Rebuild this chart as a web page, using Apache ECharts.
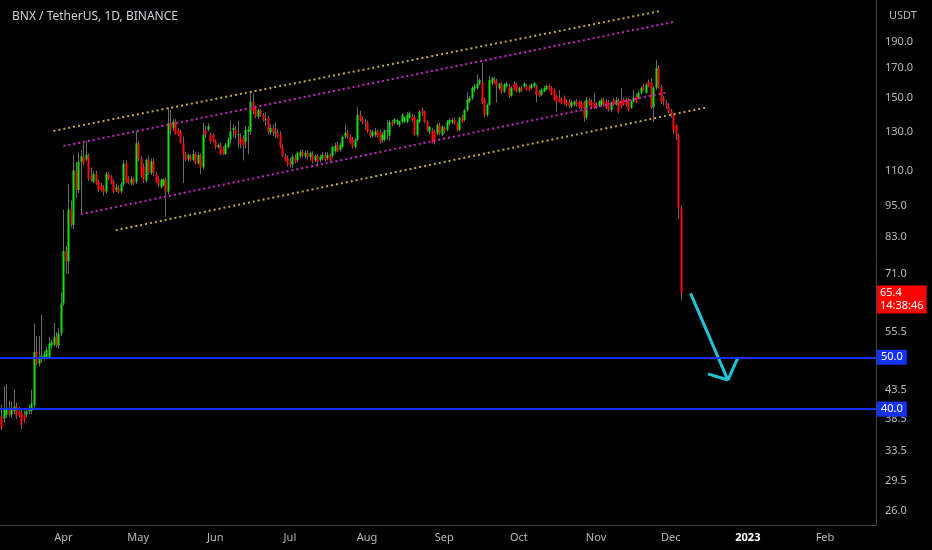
<!DOCTYPE html>
<html><head><meta charset="utf-8">
<script src="https://cdn.jsdelivr.net/npm/echarts@6/dist/echarts.min.js"></script>
<style>html,body{margin:0;padding:0;background:#000}#c{width:932px;height:550px}</style>
</head><body><div id="c"></div>
<script>
const startDate = '2022-03-07';
const endDate = '2023-02-21';
const opens = [
38.9,38.5,39.1,40.0,39.1,39.7,40.5,39.7,39.4,39.1,
39.1,39.7,39.7,40.7,51.0,48.6,49.6,49.8,49.9,49.9,
52.4,52.6,54.4,52.4,55.2,62.7,78.3,74.9,93.3,87.5,
110.3,101.4,114.3,117.0,115.5,117.0,107.3,105.0,108.8,105.0,
103.6,102.6,100.7,108.5,107.3,105.0,101.4,102.6,100.7,104.0,
113.5,106.5,104.3,106.5,105.0,123.7,115.8,112.0,105.5,115.3,
109.0,114.5,108.5,106.5,102.6,103.6,106.0,100.7,134.6,132.0,
135.5,130.9,130.0,123.7,118.1,115.8,117.0,115.2,118.1,113.5,
117.7,111.6,130.9,130.9,128.2,128.2,124.5,121.6,122.8,120.8,
118.1,121.6,125.4,130.9,131.0,128.0,127.0,126.0,124.4,130.0,
130.0,147.5,143.8,138.3,142.0,139.5,136.5,137.8,129.5,132.0,
129.2,129.8,128.2,121.8,117.2,116.2,114.3,112.9,116.7,115.2,
117.2,119.2,117.2,118.7,116.7,117.7,115.2,117.2,115.2,116.2,
117.7,116.2,117.2,117.2,119.5,122.9,120.2,121.8,127.1,129.2,
127.1,126.0,121.8,125.4,139.5,137.0,135.0,135.0,129.8,127.6,
128.0,130.0,129.8,125.4,125.4,130.0,127.6,135.4,135.0,134.5,
133.7,135.4,135.4,135.4,137.8,138.3,138.3,128.2,135.4,142.4,
141.2,135.4,129.8,130.9,129.8,128.8,133.7,128.2,132.0,130.9,
134.5,135.0,136.5,134.5,130.9,138.3,136.5,142.4,147.6,149.8,
155.2,156.3,159.2,160.5,148.7,139.5,145.6,159.5,162.0,160.5,
156.3,158.5,154.0,157.4,157.4,151.3,159.2,158.5,154.0,156.3,
157.2,157.4,157.4,156.3,157.4,157.0,154.0,151.9,154.0,155.5,
157.8,156.3,155.2,151.3,150.0,148.7,150.0,147.6,147.6,144.7,
145.6,147.6,147.6,147.1,147.0,137.8,148.7,147.6,147.0,145.6,
144.7,145.6,148.7,147.6,147.0,142.4,148.7,145.6,147.6,148.7,
148.7,148.7,148.7,143.8,147.6,151.3,150.0,153.0,157.4,153.2,
160.5,160.0,144.0,156.5,170.0,157.0,149.5,147.0,145.0,142.0,
139.5,133.7,128.2,93.8];
const highs = [
40.8,44.2,44.5,41.5,41.3,43.5,41.2,40.4,40.0,39.8,
40.3,40.8,43.5,57.6,54.6,54.6,59.7,51.2,52.2,54.4,
53.8,57.7,55.5,56.5,65.7,93.3,80.0,104.0,97.0,117.8,
114.3,119.0,120.0,123.7,125.0,118.5,111.6,110.0,110.0,106.0,
104.5,103.5,109.5,109.5,108.0,106.0,104.0,103.5,105.0,115.0,
115.0,107.5,107.5,107.0,130.2,125.0,117.0,113.5,116.0,117.0,
116.0,115.8,109.5,107.5,106.5,106.5,107.0,144.0,142.4,137.0,
137.0,132.0,131.0,127.3,119.0,118.5,118.0,120.0,119.0,119.0,
118.5,134.6,133.0,134.6,129.5,129.0,125.5,123.5,124.0,122.0,
124.0,127.0,136.0,134.0,133.0,136.0,129.0,128.0,133.0,133.0,
153.0,153.0,145.0,143.5,143.0,140.5,141.0,139.0,134.0,134.0,
135.0,131.0,130.0,123.0,118.5,117.5,116.0,118.0,118.0,119.5,
120.5,120.5,120.0,120.0,119.5,119.5,118.0,118.0,118.0,119.0,
119.0,119.0,118.5,122.5,124.0,124.5,124.0,128.0,134.0,131.0,
128.5,127.0,126.5,144.0,142.0,138.5,137.0,136.0,131.0,131.0,
132.0,131.0,131.0,129.5,131.0,136.5,136.5,136.5,137.5,137.0,
136.0,140.5,138.5,141.0,141.5,140.0,139.5,137.0,142.5,144.0,
142.0,136.0,133.0,132.0,131.0,134.5,135.0,133.5,133.0,136.5,
137.5,137.5,138.0,135.5,138.5,139.5,143.0,154.0,151.0,157.5,
159.0,165.5,163.0,174.0,150.0,146.5,164.5,164.0,164.0,162.5,
160.0,160.0,159.5,160.5,159.0,157.5,161.0,160.0,157.5,158.0,
160.5,159.0,158.5,159.5,160.5,158.5,155.0,156.5,157.5,158.5,
159.0,157.5,156.0,152.0,155.0,150.0,151.5,149.0,149.0,148.5,
148.5,149.0,148.5,148.0,148.0,150.5,150.0,149.0,153.0,147.0,
148.5,150.0,150.0,149.0,148.5,147.5,150.0,150.5,149.5,156.5,
150.0,150.0,150.0,148.5,155.0,153.0,154.5,157.5,159.0,160.0,
162.0,163.0,157.5,176.0,172.0,158.5,151.0,148.5,146.5,143.0,
140.0,134.0,129.0,95.0];
const lows = [
36.6,37.8,38.6,38.8,38.6,39.2,38.4,38.7,36.8,37.8,
38.6,39.2,39.2,40.2,48.2,48.0,48.8,49.2,49.5,49.5,
51.8,52.2,52.0,51.8,54.6,62.0,71.0,71.0,86.5,86.0,
98.0,100.0,92.0,112.5,114.5,105.5,105.0,104.5,103.5,100.5,
100.8,99.0,100.0,105.8,103.8,100.0,100.5,99.8,100.0,103.0,
104.5,104.0,103.5,103.5,104.0,114.5,107.0,104.5,104.5,108.0,
108.0,107.5,104.5,102.5,102.0,103.0,90.5,99.5,128.0,130.0,
128.2,127.5,123.5,104.5,114.5,114.5,114.5,114.5,113.0,113.0,
108.5,110.5,126.5,130.0,123.5,124.0,120.5,121.0,117.5,117.5,
117.5,121.0,123.0,127.0,126.0,121.0,121.0,115.0,121.0,118.0,
128.0,140.0,137.5,137.0,138.5,135.5,133.0,128.5,128.0,127.5,
126.5,126.0,121.0,116.5,114.5,112.0,111.5,111.5,113.5,114.0,
116.0,116.5,116.0,115.5,115.0,113.5,114.0,112.0,114.0,115.0,
114.5,115.0,114.0,116.0,118.5,119.0,119.5,121.0,126.0,126.0,
123.5,121.0,121.0,124.5,135.5,134.0,131.0,129.0,126.5,126.5,
127.0,126.5,123.5,124.0,124.5,125.5,125.0,133.0,134.0,133.5,
132.5,134.5,134.5,134.5,137.0,135.5,127.5,127.0,134.5,139.0,
134.5,130.0,128.5,123.5,123.0,128.0,128.0,127.5,129.0,130.0,
133.5,134.0,134.0,130.0,130.0,135.0,135.5,141.5,146.5,148.5,
153.5,155.0,158.0,146.0,138.0,138.3,145.0,158.0,159.0,147.0,
155.0,152.5,153.0,156.5,150.0,150.5,154.5,153.5,153.0,153.5,
156.5,154.5,154.0,155.5,156.5,147.0,150.5,151.0,153.5,155.0,
154.5,151.5,148.0,141.5,147.0,146.0,145.5,144.5,143.5,143.5,
144.5,144.5,143.0,143.0,135.4,136.5,145.0,143.0,143.0,143.0,
144.0,145.0,144.5,143.0,141.5,141.0,145.0,145.0,140.5,143.5,
145.0,144.5,141.5,143.0,147.0,146.5,149.0,152.0,154.5,152.5,
157.0,143.0,135.5,155.0,156.0,146.0,145.0,143.5,140.5,138.0,
128.5,125.4,89.7,63.6];
const closes = [
37.0,40.2,40.0,39.1,40.0,40.5,38.8,39.1,37.4,38.2,
39.7,40.2,41.0,51.0,48.6,49.6,50.3,50.6,51.5,52.8,
53.2,54.4,52.6,55.2,62.7,78.3,74.9,93.3,87.5,110.3,
101.4,114.3,117.0,113.5,117.8,106.5,105.9,108.5,104.3,101.4,
101.4,100.3,108.5,106.5,104.3,100.7,102.6,100.3,104.0,113.5,
105.0,104.6,106.2,104.3,123.7,115.8,108.0,105.5,115.3,109.2,
114.5,109.2,105.0,103.6,106.0,106.0,100.7,134.6,131.0,135.5,
128.5,128.2,123.7,118.1,115.2,117.7,115.2,118.1,113.5,117.7,
111.6,128.2,128.2,133.0,124.5,124.5,121.6,122.8,118.1,118.1,
122.8,125.4,130.0,132.0,128.2,128.5,123.0,122.5,130.9,131.0,
147.5,141.5,138.3,142.4,139.5,136.5,136.8,129.8,132.0,129.2,
129.6,127.1,121.8,117.2,115.2,112.9,112.9,116.7,114.3,118.7,
119.2,117.2,118.7,116.7,118.7,114.3,117.2,114.3,116.7,117.7,
115.2,117.7,114.8,121.8,122.3,119.5,122.9,127.1,129.2,127.0,
124.0,121.8,125.4,139.5,136.5,135.0,134.5,129.8,127.6,129.8,
130.0,127.6,124.4,128.2,130.5,130.8,135.4,133.7,137.0,136.5,
135.4,139.5,137.8,139.5,140.5,136.5,128.2,136.5,141.2,140.5,
135.4,130.9,132.6,124.0,124.2,133.7,128.8,132.6,130.2,135.4,
136.5,136.5,134.5,130.9,137.8,135.4,142.4,148.7,149.8,156.3,
157.4,159.2,161.7,147.0,139.5,145.6,161.7,163.0,159.5,157.4,
159.2,153.3,158.5,159.2,151.3,156.3,155.2,154.0,156.3,154.5,
159.2,155.2,154.6,158.5,159.5,151.9,151.3,155.2,156.3,157.8,
155.2,151.9,148.7,147.0,147.6,146.5,146.2,145.6,144.7,147.2,
147.6,145.6,144.2,143.6,137.8,148.7,145.6,143.6,143.8,143.8,
147.6,148.7,145.6,143.8,142.4,147.0,145.6,148.7,141.2,144.7,
145.6,145.6,142.4,147.6,150.0,147.0,153.0,156.3,155.0,158.5,
157.4,143.8,156.5,170.0,157.0,148.0,147.5,145.0,141.5,139.5,
130.5,128.2,93.8,65.4];

const priceTicks = [190, 170, 150, 130, 110, 95, 83, 71, 55.5, 43.5, 38.5, 33.5, 29.5, 26];
const priceMin = 24.5;
const priceMax = 227;
const levels = [50, 40];
const lastPrice = 65.4;
const countdown = '14:38:46';
const upperOuter = [['2022-03-28', 130.3], ['2022-11-27', 216.7]];
const upperInner = [['2022-04-01', 122.2], ['2022-12-02', 206.8]];
const lowerInner = [['2022-04-08', 91.5], ['2022-11-30', 153.6]];
const lowerOuter = [['2022-04-22', 85.5], ['2022-12-15', 143.8]];
const arrowShaft = [['2022-12-09', 65.4], ['2022-12-24', 45.3]];
const arrowWingA = [['2022-12-16', 46.5], ['2022-12-24', 45.3]];
const arrowWingB = [['2022-12-28', 49.8], ['2022-12-24', 45.3]];
const monthNames = ['Jan','Feb','Mar','Apr','May','Jun','Jul','Aug','Sep','Oct','Nov','Dec'];

const L = Math.log;
const days = [];
for (let t = Date.parse(startDate + 'T00:00:00Z'); t <= Date.parse(endDate + 'T00:00:00Z'); t += 86400000) {
  days.push(new Date(t).toISOString().slice(0, 10));
}
const candleData = opens.map((o, i) => [i, L(o), L(closes[i]), L(lows[i]), L(highs[i])]);

const UP = '#12e212', DOWN = '#f80c0c', WICK = '#6a6a6a';
const BLUE = '#1432f5', CYAN = '#1fc4d8', GOLD = '#c4a83c', MAGENTA = '#c824c8';
const FONT = '"Noto Sans", "Open Sans", sans-serif';

function seg(pts, color, type, width) {
  return [
    { coord: [pts[0][0], L(pts[0][1])], lineStyle: { color: color, type: type, width: width, cap: 'butt' }, label: { show: false } },
    { coord: [pts[1][0], L(pts[1][1])] }
  ];
}
const levelLines = levels.map(v => ({
  yAxis: L(v),
  lineStyle: { color: BLUE, width: 2, type: 'solid' },
  label: {
    show: true, position: 'end', distance: 1, formatter: v.toFixed(1),
    backgroundColor: BLUE, color: '#ffffff', fontSize: 11, fontFamily: FONT,
    padding: [2, 4, 1, 4], lineHeight: 12
  }
}));
const priceLine = {
  yAxis: L(lastPrice),
  lineStyle: { color: 'rgba(0,0,0,0)', width: 1, type: 'solid' },
  label: {
    show: true, position: 'end', distance: 1, offset: [0, 6],
    formatter: lastPrice.toFixed(1) + '\n' + countdown,
    backgroundColor: '#ff0000', color: '#ffffff', fontSize: 11, fontFamily: FONT,
    lineHeight: 13, padding: [1, 3, 1, 3], align: 'left'
  }
};

const chart = echarts.init(document.getElementById('c'), null, { renderer: 'canvas' });
chart.setOption({
  backgroundColor: '#000000',
  animation: false,
  title: [
    { text: 'BNX / TetherUS, 1D, BINANCE', left: 7, top: 6, textStyle: { color: '#d1d4dc', fontSize: 12, fontWeight: 'normal', fontFamily: FONT } },
    { text: 'USDT', left: 884, top: 5, textStyle: { color: '#b8b8b8', fontSize: 11, fontWeight: 'normal', fontFamily: FONT } }
  ],
  grid: { left: 0, right: 56, top: 0, bottom: 25 },
  xAxis: {
    type: 'category', data: days, boundaryGap: true,
    axisLine: { show: true, lineStyle: { color: '#444444' } },
    axisTick: { show: false }, splitLine: { show: false },
    axisLabel: {
      interval: (i, v) => v.slice(8) === '01',
      formatter: (v) => {
        const m = +v.slice(5, 7);
        return m === 1 ? '{y|' + v.slice(0, 4) + '}' : monthNames[m - 1];
      },
      color: '#b8b8b8', fontSize: 11, margin: 7, fontFamily: FONT,
      rich: { y: { color: '#ffffff', fontWeight: 'bold', fontSize: 11, fontFamily: FONT } }
    }
  },
  yAxis: {
    type: 'value', position: 'right', min: L(priceMin), max: L(priceMax),
    axisLine: { show: true, lineStyle: { color: '#444444' } },
    axisTick: { show: false }, splitLine: { show: false },
    axisLabel: {
      customValues: priceTicks.map(L),
      formatter: (v) => Math.exp(v).toFixed(1),
      color: '#b8b8b8', fontSize: 11, margin: 9, fontFamily: FONT
    }
  },
  series: [
    {
      type: 'custom',
      data: candleData,
      encode: { x: 0, y: [1, 2, 3, 4] },
      renderItem: function (params, api) {
        const x = api.value(0);
        const o = api.value(1), c = api.value(2), l = api.value(3), h = api.value(4);
        const pO = api.coord([x, o]), pC = api.coord([x, c]);
        const pL = api.coord([x, l]), pH = api.coord([x, h]);
        const cx = Math.round(pO[0]);
        const top = Math.min(pO[1], pC[1]);
        const hgt = Math.max(1, Math.abs(pO[1] - pC[1]));
        return {
          type: 'group',
          children: [
            { type: 'line', shape: { x1: cx + 0.5, y1: pH[1], x2: cx + 0.5, y2: pL[1] }, style: { stroke: WICK, lineWidth: 1 } },
            { type: 'rect', shape: { x: cx - 0.5, y: top, width: 2, height: hgt }, style: { fill: c >= o ? UP : DOWN } }
          ]
        };
      }
    },
    {
      type: 'line', data: [], clip: false, symbol: 'none', silent: true,
      markLine: {
        silent: true, symbol: ['none', 'none'], animation: false,
        data: [
          seg(upperOuter, GOLD, [2, 3], 2),
          seg(upperInner, MAGENTA, [2, 3], 2),
          seg(lowerInner, MAGENTA, [2, 3], 2),
          seg(lowerOuter, GOLD, [2, 3], 2),
          seg(arrowShaft, CYAN, 'solid', 3),
          seg(arrowWingA, CYAN, 'solid', 3),
          seg(arrowWingB, CYAN, 'solid', 3),
          ...levelLines,
          priceLine
        ]
      }
    }
  ]
});
</script>
</body></html>
